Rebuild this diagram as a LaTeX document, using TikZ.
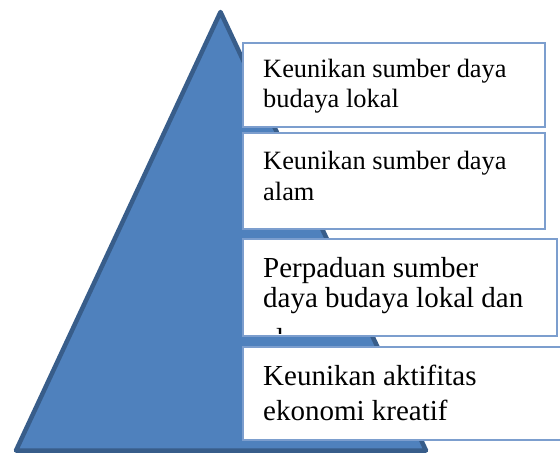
\documentclass[tikz,border=0pt]{standalone}
\usepackage{fontspec}
\setmainfont{Liberation Serif}
\definecolor{trifill}{RGB}{79,129,189}
\definecolor{triline}{RGB}{56,93,138}
\definecolor{boxline}{RGB}{124,158,206}
\begin{document}
\begin{tikzpicture}[x=1pt,y=-1pt,
  tri/.style={fill=trifill,draw=triline,line width=4.5pt,line join=round},
  tbox/.style={fill=white,draw=boxline,line width=1.5pt},
  small/.style={anchor=base west,inner sep=0pt,font=\fontsize{26.4}{30}\selectfont},
  big/.style={anchor=base west,inner sep=0pt,font=\fontsize{29}{34}\selectfont}]
\useasboundingbox (0,0) rectangle (560,456);
\clip (0,0) rectangle (560,456);
\fill[white] (0,0) rectangle (560,456);
% triangle
\draw[tri] (220.5,12) -- (426,450.5) -- (16,450.5) -- cycle;
% boxes
\draw[tbox] (243,43) rectangle (545,127);
\draw[tbox] (243,133) rectangle (545,229);
\draw[tbox] (243,239) rectangle (557,336);
\draw[tbox] (243,347) rectangle (566,440);
% box 1
\node[small] (b1a) at (263,77) {Keunikan sumber daya};
\node[small] (b1b) at (263,107) {budaya lokal};
% box 2
\node[small] (b2a) at (263,169) {Keunikan sumber daya};
\node[small] (b2b) at (263,200) {alam};
% box 3 (third line clipped by box)
\node[big] (b3a) at (263,277) {Perpaduan sumber};
\node[big] (b3b) at (263,307) {daya budaya lokal dan};
\begin{scope}
\clip (244,240) rectangle (556,333);
\node[big] (b3c) at (263,348) {alam};
\end{scope}
% box 4
\node[big] (b4a) at (263,385) {Keunikan aktifitas};
\node[big] (b4b) at (263,420) {ekonomi kreatif};
\end{tikzpicture}
\end{document}
